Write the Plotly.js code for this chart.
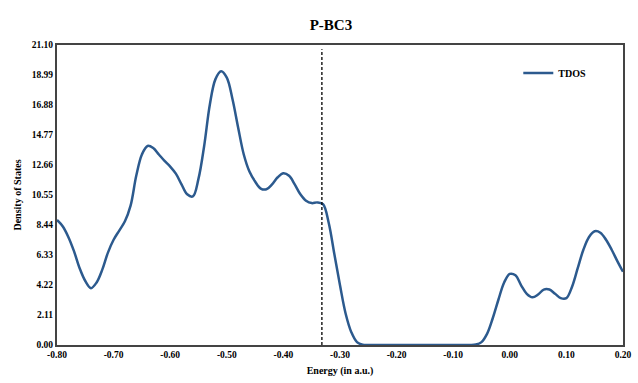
<!DOCTYPE html>
<html>
<head>
<meta charset="utf-8">
<script src="https://cdn.plot.ly/plotly-3.0.1.min.js"></script>
<style>html,body{margin:0;padding:0;background:#fff;}#chart{width:638px;height:383px;}</style>
</head>
<body>
<div id="chart"></div>
<script>
const energy = [-0.80,-0.79,-0.78,-0.77,-0.76,-0.75,-0.74,-0.73,-0.72,-0.71,
                -0.70,-0.69,-0.68,-0.67,-0.66,-0.65,-0.64,-0.63,-0.62,-0.61,
                -0.60,-0.59,-0.58,-0.57,-0.56,-0.55,-0.54,-0.53,-0.52,-0.51,
                -0.50,-0.49,-0.48,-0.47,-0.46,-0.45,-0.44,-0.43,-0.42,-0.41,
                -0.40,-0.39,-0.38,-0.37,-0.36,-0.35,-0.34,-0.33,-0.32,-0.31,
                -0.30,-0.29,-0.28,-0.27,-0.26,-0.25,-0.24,-0.23,-0.22,-0.21,
                -0.20,-0.19,-0.18,-0.17,-0.16,-0.15,-0.14,-0.13,-0.12,-0.11,
                -0.10,-0.09,-0.08,-0.07,-0.06,-0.05,-0.04,-0.03,-0.02,-0.01,
                 0.00, 0.01, 0.02, 0.03, 0.04, 0.05, 0.06, 0.07, 0.08, 0.09,
                 0.10, 0.11, 0.12, 0.13, 0.14, 0.15, 0.16, 0.17, 0.18, 0.19, 0.20];
const tdos   = [8.79, 8.35, 7.60, 6.60, 5.40, 4.50, 4.00, 4.40, 5.30, 6.50,
                7.40, 8.05, 8.70, 9.80, 11.90, 13.40, 14.00, 13.85, 13.40, 12.95,
                12.55, 12.05, 11.30, 10.60, 10.45, 11.70, 14.00, 16.90, 18.70, 19.25,
                18.80, 17.30, 15.30, 13.40, 12.20, 11.50, 11.00, 10.95, 11.30, 11.80,
                12.08, 11.90, 11.30, 10.60, 10.15, 9.98, 10.03, 9.90, 8.60, 6.40,
                4.20, 2.20, 0.90, 0.20, 0.02, 0.00, 0.00, 0.00, 0.00, 0.00,
                0.00, 0.00, 0.00, 0.00, 0.00, 0.00, 0.00, 0.00, 0.00, 0.00,
                0.00, 0.00, 0.00, 0.00, 0.03, 0.20, 0.80, 1.90, 3.20, 4.40,
                5.00, 4.90, 4.20, 3.60, 3.35, 3.55, 3.90, 3.90, 3.60, 3.30,
                3.30, 4.10, 5.40, 6.70, 7.60, 8.00, 7.90, 7.40, 6.70, 5.90, 5.15];
const fermiLevel = -0.332;
const seriesName = "TDOS";
const chartTitle = "P-BC3";
const xTitle = "Energy (in a.u.)";
const yTitle = "Density of States";
const xTickLabels = ["-0.80","-0.70","-0.60","-0.50","-0.40","-0.30","-0.20","-0.10","0.00","0.10","0.20"];
const yTickLabels = ["0.00","2.11","4.22","6.33","8.44","10.55","12.66","14.77","16.88","18.99","21.10"];

const serif = "Liberation Serif, Times New Roman, serif";

const trace = {
  x: energy, y: tdos, type: "scatter", mode: "lines", name: "<b>" + seriesName + "</b>",
  line: {color: "#2c5a8e", width: 2.5, shape: "spline", smoothing: 1.0}
};

const layout = {
  width: 638, height: 383,
  margin: {l: 57, r: 15, t: 45, b: 38},
  paper_bgcolor: "#fff", plot_bgcolor: "#fff",
  title: {text: "<b>" + chartTitle + "</b>", x: 0.484, xref: "paper", y: 0.95, yref: "container",
          font: {family: serif, size: 15, color: "#000"}},
  showlegend: true,
  legend: {x: 0.815, y: 0.907, xanchor: "left", yanchor: "middle", bgcolor: "rgba(0,0,0,0)",
           font: {family: serif, size: 10, color: "#000"}, itemwidth: 30},
  xaxis: {
    range: [-0.8, 0.2], showgrid: false, zeroline: false,
    tickvals: xTickLabels.map(Number), ticktext: xTickLabels.map(s => "<b>" + s + "</b>"),
    ticks: "", showline: true, linecolor: "#444", linewidth: 2, mirror: true,
    tickfont: {family: serif, size: 9.5, color: "#000"},
    title: {text: "<b>" + xTitle + "</b>", font: {family: serif, size: 10, color: "#000"}, standoff: 8}
  },
  yaxis: {
    range: [0, 21.1], showgrid: false, zeroline: false,
    tickvals: yTickLabels.map(Number), ticktext: yTickLabels.map(s => "<b>" + s + "</b>"),
    ticks: "", showline: true, linecolor: "#444", linewidth: 2, mirror: true,
    tickfont: {family: serif, size: 9.5, color: "#000"},
    title: {text: "<b>" + yTitle + "</b>", font: {family: serif, size: 10, color: "#000"}, standoff: 8}
  },
  shapes: [{
    type: "line", xref: "x", yref: "y", x0: fermiLevel, x1: fermiLevel, y0: 0, y1: 20.8,
    line: {color: "#000", width: 1.3, dash: "3px,2px"}
  }]
};

Plotly.newPlot("chart", [trace], layout, {displayModeBar: false, staticPlot: true});
</script>
</body>
</html>
